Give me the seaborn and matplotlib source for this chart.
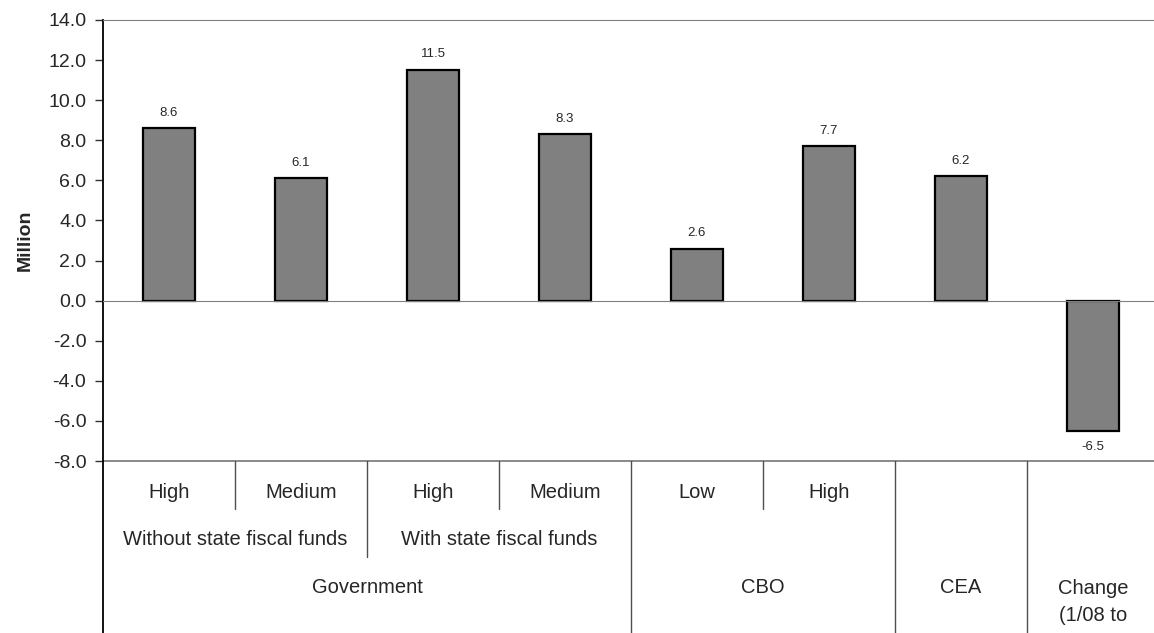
import numpy as np
import pandas as pd
import matplotlib
matplotlib.use('Agg')
import matplotlib.pyplot as plt
import seaborn as sns

# one entry per bar, left to right
sub_labels = ['High', 'Medium', 'High', 'Medium', 'Low', 'High', '', '']
mid_labels = ['Without state fiscal funds', 'Without state fiscal funds',
              'With state fiscal funds', 'With state fiscal funds',
              '', '', '', '']
top_labels = ['Government', 'Government', 'Government', 'Government',
              'CBO', 'CBO', 'CEA', 'Change\n(1/08 to']
values = [8.6, 6.1, 11.5, 8.3, 2.6, 7.7, 6.2, -6.5]

y_ticks = np.arange(-8, 15, 2)

sns.set_style('white')
plt.rcParams['font.family'] = ['Liberation Sans', 'DejaVu Sans']

df = pd.DataFrame({'bar': np.arange(len(values)), 'value': values})

fig = plt.figure(figsize=(11.54, 6.33), dpi=100)
ax = fig.add_axes([103 / 1154, 172 / 633, 1056 / 1154, 441 / 633])

sns.barplot(data=df, x='bar', y='value', color='#808080', saturation=1,
            edgecolor='black', linewidth=1.6, width=0.4, ax=ax)
ax.bar_label(ax.containers[0], fmt='%.1f', padding=7, fontsize=9.5)

ax.set_ylim(-8, 14)
ax.set_xlim(-0.5, len(values) - 0.5)
ax.set_yticks(y_ticks)
ax.set_yticklabels([f'{v:.1f}' for v in y_ticks])
ax.set_ylabel('Million', fontsize=14, fontweight='bold')
ax.yaxis.set_label_coords(-0.066, 0.5)
ax.set_xlabel('')

# category boundaries as ticks on the zero line
n = len(values)
ax.set_xticks(np.arange(n - 1) + 0.5)
ax.set_xticklabels([])
ax.spines['bottom'].set_position(('data', 0))
ax.spines['bottom'].set_color('#808080')
ax.spines['top'].set_color('#808080')
ax.spines['right'].set_visible(False)
ax.spines['left'].set_color('black')
ax.spines['left'].set_linewidth(1.3)
ax.tick_params(axis='x', direction='out', length=5, color='#808080', width=1)
ax.tick_params(axis='y', direction='out', length=6, color='#303030', width=1,
               labelsize=14, pad=6, left=True)
ax.axhline(-8, color='#808080', lw=1.3, clip_on=False)

# multi-level category table under the plot
row1_bottom, row2_bottom, table_bottom = -10.4, -12.8, -17.5
line_kw = dict(color='#505050', lw=1, clip_on=False)
ax.plot([-0.5, -0.5], [-8, table_bottom], color='black', lw=1.3, clip_on=False)
for i in range(n - 1):
    if top_labels[i] != top_labels[i + 1]:
        end = table_bottom
    elif mid_labels[i] != mid_labels[i + 1]:
        end = row2_bottom
    else:
        end = row1_bottom
    ax.plot([i + 0.5, i + 0.5], [-8, end], **line_kw)

label_size = 14.5
for i, lab in enumerate(sub_labels):
    if lab:
        ax.text(i, -9.55, lab, ha='center', va='center', fontsize=label_size, clip_on=False)


def spans(labels):
    out = []
    start = 0
    for i in range(1, len(labels) + 1):
        if i == len(labels) or labels[i] != labels[start]:
            out.append((labels[start], start, i - 1))
            start = i
    return out


for lab, a, b in spans(mid_labels):
    if lab:
        ax.text((a + b) / 2, -11.9, lab, ha='center', va='center', fontsize=label_size)
for lab, a, b in spans(top_labels):
    nlines = lab.count('\n')
    ax.text((a + b) / 2, -14.3 - 0.75 * nlines, lab, ha='center', va='center',
            fontsize=label_size, linespacing=1.55, multialignment='center')

fig.savefig('out.png', dpi=100)
